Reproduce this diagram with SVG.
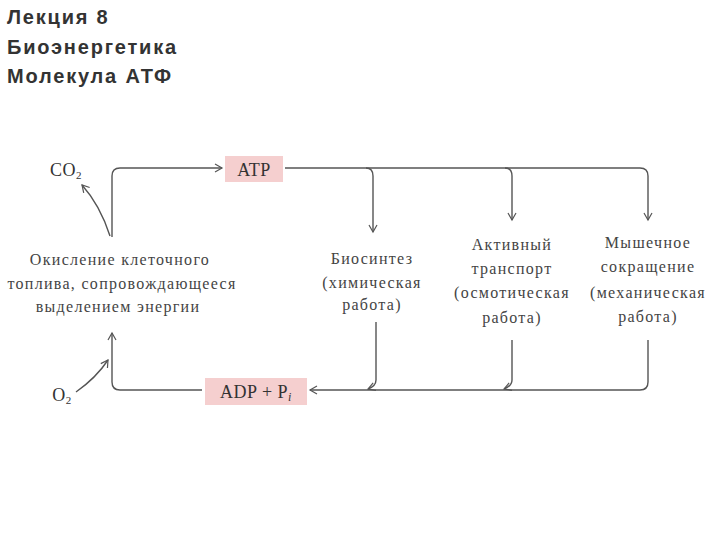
<svg xmlns="http://www.w3.org/2000/svg" width="720" height="540" viewBox="0 0 720 540">
<defs>
<marker id="ah" markerWidth="10" markerHeight="10" refX="8" refY="5" orient="auto" markerUnits="userSpaceOnUse">
<path d="M1,1 L8,5 L1,9" fill="none" stroke="#555" stroke-width="1.2"/>
</marker>
<style>
.t{font-family:"Liberation Sans",Arial,sans-serif;font-size:20px;font-weight:bold;letter-spacing:1.8px;fill:#333}
.s{font-family:"Liberation Serif","Times New Roman",serif;font-size:16px;letter-spacing:1.3px;fill:#444;text-anchor:middle}
.b{font-family:"Liberation Serif","Times New Roman",serif;font-size:18px;letter-spacing:0.5px;fill:#333;text-anchor:middle}
.c{fill:none;stroke:#555;stroke-width:1.4}
.box{fill:#f5cfcf}
</style>
</defs>
<rect width="720" height="540" fill="#fff"/>
<g id="title">
<text class="t" x="7" y="24">Лекция 8</text>
<text class="t" x="7" y="54">Биоэнергетика</text>
<text class="t" x="7" y="83">Молекула АТФ</text>
</g>
<g id="atp"><rect class="box" x="225" y="156" width="58" height="26"/><text class="b" x="254" y="176">ATP</text></g>
<g id="adp"><rect class="box" x="205" y="378" width="102" height="27"/><text class="b" x="256" y="398">ADP + P<tspan font-size="12" font-style="italic" dy="3">i</tspan></text></g>
<g id="co2"><text class="b" x="66" y="176">CO<tspan font-size="11" dy="3">2</tspan></text></g>
<g id="o2"><text class="b" x="62" y="401">O<tspan font-size="11" dy="3">2</tspan></text></g>
<g id="oxid">
<text class="s" x="120" y="265">Окисление клеточного</text>
<text class="s" x="122" y="289">топлива, сопровождающееся</text>
<text class="s" x="118" y="312">выделением энергии</text>
</g>
<g id="bio">
<text class="s" x="372" y="264">Биосинтез</text>
<text class="s" x="372" y="288">(химическая</text>
<text class="s" x="372" y="310">работа)</text>
</g>
<g id="trans">
<text class="s" x="512" y="250">Активный</text>
<text class="s" x="512" y="274">транспорт</text>
<text class="s" x="512" y="298">(осмотическая</text>
<text class="s" x="512" y="323">работа)</text>
</g>
<g id="muscle">
<text class="s" x="648" y="248">Мышечное</text>
<text class="s" x="648" y="272">сокращение</text>
<text class="s" x="648" y="298">(механическая</text>
<text class="s" x="648" y="322">работа)</text>
</g>
<g id="connectors">
<path class="c" d="M112,237 V176 Q112,168 120,168 H222" marker-end="url(#ah)"/>
<path class="c" d="M110,236 Q100,205 82,185" marker-end="url(#ah)"/>
<path class="c" d="M285,168 H640 Q648,168 648,176 V220" marker-end="url(#ah)"/>
<path class="c" d="M366,168 Q373,168 373,176 V232" marker-end="url(#ah)"/>
<path class="c" d="M505,168 Q512,168 512,176 V220" marker-end="url(#ah)"/>
<path class="c" d="M648,340 V382 Q648,390 640,390 H310" marker-end="url(#ah)"/>
<path class="c" d="M376,322 V380 Q376,386 368,389" marker-end="url(#ah)"/>
<path class="c" d="M512,340 V380 Q512,386 504,389" marker-end="url(#ah)"/>
<path class="c" d="M202,390 H120 Q112,390 112,382 V333" marker-end="url(#ah)"/>
<path class="c" d="M76,392 Q96,378 108,360" marker-end="url(#ah)"/>
</g>
</svg>
